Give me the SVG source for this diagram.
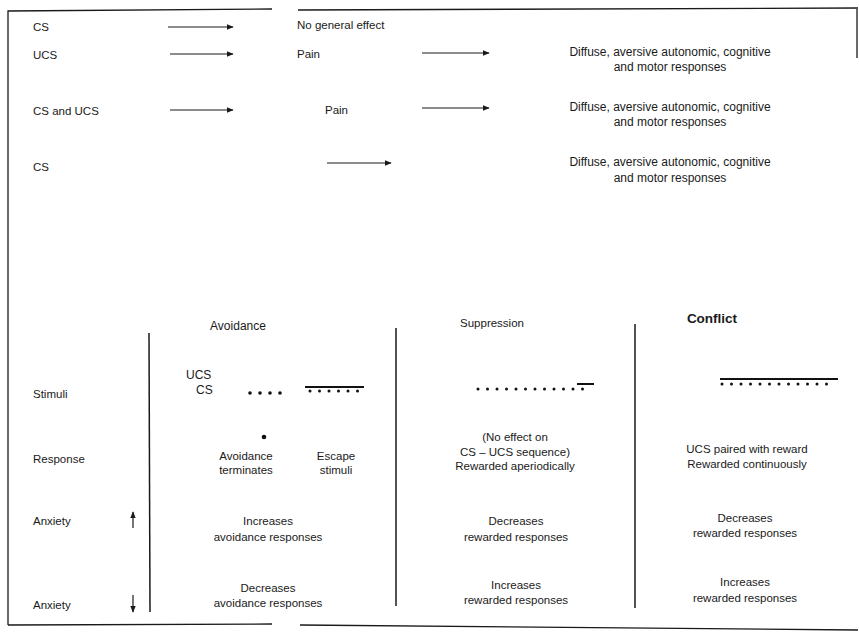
<svg xmlns="http://www.w3.org/2000/svg" width="859" height="642" viewBox="0 0 859 642">
<style>
text{font-family:"Liberation Sans","Noto Sans",Arial,sans-serif;font-size:11.5px;fill:#1a1a1a}
.t{font-size:12px}
.c{text-anchor:middle}
.b{font-weight:bold;font-size:13.5px}
.frame{stroke:#1a1a1a;stroke-width:1.3;fill:none}
.col{stroke:#1a1a1a;stroke-width:1.5;fill:none}
.arr{stroke:#1a1a1a;stroke-width:1.2;fill:none;marker-end:url(#ah)}
.ucs{stroke:#111;stroke-width:2;fill:none}
.cs{stroke:#111;stroke-width:3.6;stroke-linecap:round;stroke-dasharray:0 10;fill:none}
.csd{stroke:#111;stroke-width:3;stroke-linecap:round;stroke-dasharray:0 9.5;fill:none}
</style>
<defs>
<marker id="ah" viewBox="0 0 10 10" refX="9" refY="5" markerWidth="7" markerHeight="7" markerUnits="userSpaceOnUse" orient="auto">
<path d="M0,1 L10,5 L0,9 z" fill="#1a1a1a"/>
</marker>
</defs>
<rect width="859" height="642" fill="#fff"/>
<g id="frame">
<path class="frame" d="M8,625 L8,11 L272,9"/>
<path class="frame" d="M298,10 L858,8 M857,8 L857,58"/>
<path class="frame" d="M8,625 L272,624 M300,625 L858,630"/>
</g>
<g id="table-lines">
<line class="col" x1="149" y1="333" x2="150" y2="612"/>
<line class="col" x1="396" y1="328" x2="396" y2="606"/>
<line class="col" x1="635" y1="324" x2="635" y2="608"/>
</g>
<g id="connectors">
<line class="arr" x1="168" y1="27" x2="233" y2="27"/>
<line class="arr" x1="170" y1="54" x2="233" y2="54"/>
<line class="arr" x1="422" y1="53" x2="489" y2="53"/>
<line class="arr" x1="170" y1="110" x2="233" y2="110"/>
<line class="arr" x1="422" y1="108" x2="489" y2="108"/>
<line class="arr" x1="327" y1="163" x2="391" y2="163"/>
<line class="arr" x1="133" y1="528" x2="133" y2="512"/>
<line class="arr" x1="133" y1="595" x2="133" y2="612"/>
</g>
<g id="row-cs1"><text x="33" y="31">CS</text></g>
<g id="no-effect"><text x="297" y="29">No general effect</text></g>
<g id="row-ucs"><text x="33" y="59">UCS</text></g>
<g id="pain1"><text x="297" y="58">Pain</text></g>
<g id="diffuse1"><text class="c t" x="670" y="56">Diffuse, aversive autonomic, cognitive</text><text class="c t" x="670" y="71">and motor responses</text></g>
<g id="row-csucs"><text x="33" y="115">CS and UCS</text></g>
<g id="pain2"><text x="325" y="114">Pain</text></g>
<g id="diffuse2"><text class="c t" x="670" y="111">Diffuse, aversive autonomic, cognitive</text><text class="c t" x="670" y="126">and motor responses</text></g>
<g id="row-cs2"><text x="33" y="171">CS</text></g>
<g id="diffuse3"><text class="c t" x="670" y="166">Diffuse, aversive autonomic, cognitive</text><text class="c t" x="670" y="182">and motor responses</text></g>
<g id="head-avoidance"><text class="c t" x="238" y="330">Avoidance</text></g>
<g id="head-suppression"><text class="c" x="492" y="327">Suppression</text></g>
<g id="head-conflict"><text class="c b" x="712" y="323">Conflict</text></g>
<g id="lab-stimuli"><text x="33" y="398">Stimuli</text></g>
<g id="lab-response"><text x="33" y="463">Response</text></g>
<g id="lab-anx-up"><text x="33" y="525">Anxiety</text></g>
<g id="lab-anx-down"><text x="33" y="609">Anxiety</text></g>
<g id="stim-avoidance">
<text x="186" y="379" class="t">UCS</text>
<text x="196" y="394" class="t">CS</text>
<line class="cs" x1="250" y1="393" x2="282" y2="393"/>
<line class="ucs" x1="305" y1="387" x2="364" y2="387"/>
<line class="csd" x1="310" y1="391" x2="363" y2="391"/>
</g>
<g id="stim-suppression">
<line class="csd" x1="478" y1="389" x2="592" y2="389"/>
<line class="ucs" x1="577" y1="384" x2="594" y2="384"/>
</g>
<g id="stim-conflict">
<line class="ucs" x1="720" y1="379" x2="838" y2="379"/>
<line class="csd" x1="722" y1="384" x2="836" y2="384"/>
</g>
<g id="resp-avoidance">
<circle cx="264" cy="437" r="2.3" fill="#111"/>
<text class="c" x="246" y="460">Avoidance</text><text class="c" x="246" y="474">terminates</text>
<text class="c" x="336" y="460">Escape</text><text class="c" x="336" y="474">stimuli</text>
</g>
<g id="resp-suppression">
<text class="c" x="515" y="441">(No effect on</text>
<text class="c" x="515" y="456">CS – UCS sequence)</text>
<text class="c" x="515" y="470">Rewarded aperiodically</text>
</g>
<g id="resp-conflict">
<text class="c" x="747" y="453">UCS paired with reward</text>
<text class="c" x="747" y="468">Rewarded continuously</text>
</g>
<g id="up-avoidance"><text class="c" x="268" y="525">Increases</text><text class="c" x="268" y="541">avoidance responses</text></g>
<g id="up-suppression"><text class="c" x="516" y="525">Decreases</text><text class="c" x="516" y="541">rewarded responses</text></g>
<g id="up-conflict"><text class="c" x="745" y="522">Decreases</text><text class="c" x="745" y="537">rewarded responses</text></g>
<g id="down-avoidance"><text class="c" x="268" y="592">Decreases</text><text class="c" x="268" y="607">avoidance responses</text></g>
<g id="down-suppression"><text class="c" x="516" y="589">Increases</text><text class="c" x="516" y="604">rewarded responses</text></g>
<g id="down-conflict"><text class="c" x="745" y="586">Increases</text><text class="c" x="745" y="602">rewarded responses</text></g>
</svg>
